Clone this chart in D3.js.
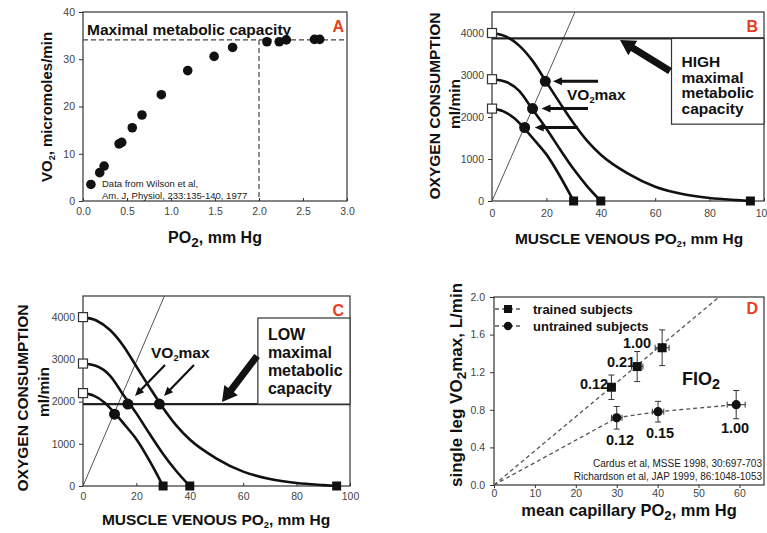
<!DOCTYPE html>
<html>
<head>
<meta charset="utf-8">
<script src="https://cdn.jsdelivr.net/npm/d3@7"></script>
<style>
body { margin: 0; background: #fff; }
svg { display: block; }
text { font-family: "Liberation Sans", Arial, sans-serif; }
</style>
</head>
<body>
<svg id="chart" width="767" height="533"></svg>
<script>
// Panel A : Wilson et al, VO2 vs PO2
var wilsonPO2 = [0.09, 0.19, 0.24, 0.41, 0.44, 0.56, 0.67, 0.89, 1.19, 1.49, 1.70, 2.09, 2.23, 2.31, 2.63, 2.69];
var wilsonVO2 = [3.5, 6.0, 7.4, 12.1, 12.4, 15.5, 18.2, 22.5, 27.6, 30.6, 32.5, 33.7, 33.7, 34.1, 34.2, 34.2];
var wilsonMax = 34.1;
var wilsonKnee = 2.0;
var aTicksX = [0, 0.5, 1.0, 1.5, 2.0, 2.5, 3.0];
var aTicksY = [0, 10, 20, 30, 40];

// Panels B and C : diffusion curves (muscle venous PO2 -> VO2)
var curveHighPO2 = [0, 5, 10, 15, 20, 25, 30, 35, 40, 50, 60, 70, 80, 90, 95];
var curveHighVO2 = [4000, 3920, 3700, 3330, 2830, 2330, 1850, 1430, 1100, 650, 340, 165, 70, 20, 0];
var curveMidPO2 = [0, 5, 10, 15, 20, 25, 30, 35, 40];
var curveMidVO2 = [2900, 2840, 2620, 2170, 1720, 1230, 760, 350, 0];
var curveLowPO2 = [0, 4, 8, 12, 16, 20, 25, 30];
var curveLowVO2 = [2200, 2140, 1980, 1720, 1420, 1110, 590, 0];
var fickPO2 = [0, 30.5];
var fickVO2 = [0, 4500];
var bCapacity = 3870;
var bCirclePO2 = [19.6, 14.9, 12.0];
var bCircleVO2 = [2850, 2200, 1750];
var cCapacity = 1940;
var cCirclePO2 = [28.6, 16.8, 11.8];
var cCircleVO2 = [1940, 1940, 1700];
var bcTicksX = [0, 20, 40, 60, 80, 100];
var bcTicksY = [0, 1000, 2000, 3000, 4000];

// Panel D : Cardus / Richardson
var trainedPO2 = [28.7, 35.0, 41.1];
var trainedVO2 = [1.04, 1.26, 1.46];
var trainedErrX = [0.9, 1.4, 1.7];
var trainedErrY = [0.13, 0.16, 0.19];
var trainedFIO2 = ['0.12', '0.21', '1.00'];
var untrainedPO2 = [30.0, 40.1, 59.2];
var untrainedVO2 = [0.715, 0.78, 0.855];
var untrainedErrX = [1.3, 1.4, 2.2];
var untrainedErrY = [0.12, 0.11, 0.15];
var untrainedFIO2 = ['0.12', '0.15', '1.00'];
var trainedFitPO2 = [0, 55];
var trainedFitVO2 = [0, 2.0];
var dTicksX = [0, 10, 20, 30, 40, 50, 60];
var dTicksY = [0, 0.4, 0.8, 1.2, 1.6, 2.0];

var INK = '#111';
var RED = '#e8401c';
var svg = d3.select('#chart');

/**
 * Builds scales and a group for one panel.
 */
makePanel = function(box, xDomain, yDomain) {
    var p = {};
    p.box = box;
    p.x = d3.scaleLinear().domain(xDomain).range([box.left, box.right]);
    p.y = d3.scaleLinear().domain(yDomain).range([box.bottom, box.top]);
    p.g = svg.append('g');
    return p;
};

/**
 * Frame, ticks and tick labels.
 */
drawAxes = function(p, o) {
    var xa = p.g.append('g')
        .attr('transform', 'translate(0,' + p.box.bottom + ')')
        .call(d3.axisBottom(p.x).tickValues(o.xTicks).tickFormat(o.xFmt)
            .tickSize(o.xTick).tickSizeOuter(0).tickPadding(o.xPad));
    var ya = p.g.append('g')
        .attr('transform', 'translate(' + p.box.left + ',0)')
        .call(d3.axisLeft(p.y).tickValues(o.yTicks).tickFormat(o.yFmt)
            .tickSize(4).tickSizeOuter(0).tickPadding(o.yPad));
    [xa, ya].forEach(function(a) {
        a.select('.domain').remove();
        a.selectAll('line').attr('stroke', '#333');
        a.selectAll('text')
            .attr('font-family', '"Liberation Sans", Arial, sans-serif')
            .attr('font-size', 10.5)
            .attr('fill', '#444');
    });
    p.g.append('rect')
        .attr('x', p.box.left).attr('y', p.box.top)
        .attr('width', p.box.right - p.box.left)
        .attr('height', p.box.bottom - p.box.top)
        .attr('fill', 'none').attr('stroke', '#333').attr('stroke-width', 1.2);
};

/**
 * Text made of parts; a part {sub: '2'} is drawn as a subscript.
 */
richText = function(g, x, y, parts, size, anchor, rotate) {
    var t = g.append('text')
        .attr('font-size', size)
        .attr('font-weight', 'bold')
        .attr('fill', INK)
        .attr('text-anchor', anchor || 'start');
    if (rotate) {
        t.attr('transform', 'translate(' + x + ',' + y + ') rotate(-90)');
    } else {
        t.attr('x', x).attr('y', y);
    }
    var shifted = false;
    parts.forEach(function(s) {
        if (typeof s === 'string') {
            t.append('tspan').attr('dy', shifted ? -size * 0.22 : 0).text(s);
            shifted = false;
        } else {
            t.append('tspan').attr('font-size', size * (s.scale || 0.65))
                .attr('dy', size * 0.22).text(s.sub);
            shifted = true;
        }
    });
    return t;
};

/**
 * Filled arrow from (x1,y1) to the tip (x2,y2).
 */
drawArrow = function(g, x1, y1, x2, y2, w, headLen, headW) {
    var dx = x2 - x1, dy = y2 - y1;
    var len = Math.sqrt(dx * dx + dy * dy);
    var ux = dx / len, uy = dy / len;
    var nx = -uy, ny = ux;
    var bx = x2 - ux * headLen, by = y2 - uy * headLen;
    var pts = [
        [x1 + nx * w / 2, y1 + ny * w / 2],
        [bx + nx * w / 2, by + ny * w / 2],
        [bx + nx * headW / 2, by + ny * headW / 2],
        [x2, y2],
        [bx - nx * headW / 2, by - ny * headW / 2],
        [bx - nx * w / 2, by - ny * w / 2],
        [x1 - nx * w / 2, y1 - ny * w / 2]
    ];
    g.append('path')
        .attr('d', 'M' + pts.map(function(q) { return q.join(','); }).join('L') + 'Z')
        .attr('fill', INK);
};

cornerLetter = function(p, letter, x, y) {
    p.g.append('text')
        .attr('x', x).attr('y', y)
        .attr('font-size', 16).attr('font-weight', 'bold')
        .attr('fill', RED).attr('text-anchor', 'end')
        .text(letter);
};

// ---------------- Panel A ----------------
drawPanelA = function() {
    var p = makePanel({left: 83, right: 347, top: 12, bottom: 201}, [0, 3], [0, 40]);
    drawAxes(p, {xTicks: aTicksX, yTicks: aTicksY, xFmt: d3.format('.1f'), yFmt: d3.format('d'),
        xTick: -3, xPad: 7, yPad: 4});

    var dash = '5,3';
    p.g.append('line')
        .attr('x1', p.x(0)).attr('x2', p.x(3))
        .attr('y1', p.y(wilsonMax)).attr('y2', p.y(wilsonMax))
        .attr('stroke', '#444').attr('stroke-width', 1.2).attr('stroke-dasharray', dash);
    p.g.append('line')
        .attr('x1', p.x(wilsonKnee)).attr('x2', p.x(wilsonKnee))
        .attr('y1', p.y(wilsonMax)).attr('y2', p.y(0))
        .attr('stroke', '#444').attr('stroke-width', 1.2).attr('stroke-dasharray', dash);

    p.g.selectAll('circle.pt').data(wilsonPO2).enter().append('circle')
        .attr('cx', function(d) { return p.x(d); })
        .attr('cy', function(d, i) { return p.y(wilsonVO2[i]); })
        .attr('r', 4.8).attr('fill', INK);

    richText(p.g, 87, 35, ['Maximal metabolic capacity'], 15.5);
    cornerLetter(p, 'A', 344, 32);

    p.g.append('text').attr('x', 102).attr('y', 187)
        .attr('font-size', 9.5).attr('fill', '#222')
        .text('Data from Wilson et al,');
    p.g.append('text').attr('x', 102).attr('y', 198.5)
        .attr('font-size', 9.5).attr('fill', '#222')
        .text('Am. J. Physiol, 233:135-140, 1977');

    richText(p.g, 52, 107, ['VO', {sub: '2', scale: 0.6}, ',  micromoles/min'], 15, 'middle', true);
    richText(p.g, 215, 243, ['PO', {sub: '2', scale: 0.85}, ',  mm Hg'], 16, 'middle');
};

/**
 * Shared drawing for B and C: three curves, Fick line, capacity line.
 */
drawCurves = function(p, capacity, circlePO2, circleVO2) {
    var line = d3.line()
        .x(function(d) { return p.x(d[0]); })
        .y(function(d) { return p.y(d[1]); })
        .curve(d3.curveMonotoneX);
    var curves = [
        d3.zip(curveHighPO2, curveHighVO2),
        d3.zip(curveMidPO2, curveMidVO2),
        d3.zip(curveLowPO2, curveLowVO2)
    ];

    // Fick line through the origin
    p.g.append('line')
        .attr('x1', p.x(fickPO2[0])).attr('y1', p.y(fickVO2[0]))
        .attr('x2', p.x(fickPO2[1])).attr('y2', p.y(fickVO2[1]))
        .attr('stroke', '#555').attr('stroke-width', 1);

    // capacity line
    p.g.append('line')
        .attr('x1', p.x(0)).attr('x2', p.x(100))
        .attr('y1', p.y(capacity)).attr('y2', p.y(capacity))
        .attr('stroke', '#222').attr('stroke-width', 2.2);

    curves.forEach(function(c) {
        p.g.append('path').attr('d', line(c))
            .attr('fill', 'none').attr('stroke', INK).attr('stroke-width', 2.6);
    });
    curves.forEach(function(c) {
        var s = 9;
        var start = c[0], end = c[c.length - 1];
        p.g.append('rect')
            .attr('x', p.x(start[0]) - s / 2).attr('y', p.y(start[1]) - s / 2)
            .attr('width', s).attr('height', s)
            .attr('fill', '#fff').attr('stroke', '#333').attr('stroke-width', 1.2);
        p.g.append('rect')
            .attr('x', p.x(end[0]) - s / 2).attr('y', p.y(end[1]) - s / 2)
            .attr('width', s).attr('height', s)
            .attr('fill', INK);
    });
    p.g.selectAll('circle.vmax').data(circlePO2).enter().append('circle')
        .attr('cx', function(d) { return p.x(d); })
        .attr('cy', function(d, i) { return p.y(circleVO2[i]); })
        .attr('r', 5.5).attr('fill', INK);
};

bcAxes = function(p, xPad, yPad) {
    drawAxes(p, {xTicks: bcTicksX, yTicks: bcTicksY, xFmt: d3.format('d'), yFmt: d3.format('d'),
        xTick: -3, xPad: xPad, yPad: yPad});
};

// ---------------- Panel B ----------------
drawPanelB = function() {
    var p = makePanel({left: 492, right: 764, top: 12, bottom: 201}, [0, 100], [0, 4500]);
    bcAxes(p, 9, 4);
    drawCurves(p, bCapacity, bCirclePO2, bCircleVO2);
    var x = p.x, y = p.y;
    p.g.append('rect')
        .attr('x', x(66)).attr('y', y(bCapacity))
        .attr('width', x(100) - x(66)).attr('height', y(1830) - y(bCapacity))
        .attr('fill', '#fff').attr('stroke', '#333').attr('stroke-width', 1.2);
    ['HIGH', 'maximal', 'metabolic', 'capacity'].forEach(function(w, i) {
        richText(p.g, x(66) + 10, 67 + i * 15.5, [w], 15.5);
    });
    drawArrow(p.g, 670, 71, 620, 40, 7, 15, 17);
    drawArrow(p.g, x(39), y(bCircleVO2[0]), x(22.4), y(bCircleVO2[0]), 3, 9, 8);
    drawArrow(p.g, x(35.3), y(bCircleVO2[1]), x(18.2), y(bCircleVO2[1]), 3, 9, 8);
    drawArrow(p.g, x(31.6), y(bCircleVO2[2]), x(15.7), y(bCircleVO2[2]), 3, 9, 8);
    richText(p.g, 567, 100, ['VO', {sub: '2', scale: 0.6}, 'max'], 15.5);
    cornerLetter(p, 'B', 758, 32);

    richText(p.g, 440, 106, ['OXYGEN CONSUMPTION'], 15.5, 'middle', true);
    richText(p.g, 460, 104, ['ml/min'], 15.5, 'middle', true);
    richText(p.g, 629, 244, ['MUSCLE VENOUS PO', {sub: '2', scale: 0.6}, ', mm Hg'], 15.5, 'middle');
};

// ---------------- Panel C ----------------
drawPanelC = function() {
    var p = makePanel({left: 83, right: 350, top: 296, bottom: 486}, [0, 100], [0, 4500]);
    bcAxes(p, 7, 4);
    drawCurves(p, cCapacity, cCirclePO2, cCircleVO2);
    var x = p.x, y = p.y;
    p.g.append('rect')
        .attr('x', x(65.5)).attr('y', 318)
        .attr('width', x(100) - x(65.5)).attr('height', y(cCapacity) - 318)
        .attr('fill', '#fff').attr('stroke', '#333').attr('stroke-width', 1.2);
    ['LOW', 'maximal', 'metabolic', 'capacity'].forEach(function(w, i) {
        richText(p.g, x(65.5) + 10, 340 + i * 18, [w], 16);
    });
    drawArrow(p.g, 257, 356, 222, 402, 7, 15, 17);
    drawArrow(p.g, 165, 365, 135, 396, 2.2, 9, 8);
    drawArrow(p.g, 194, 365, 164, 396, 2.2, 9, 8);
    richText(p.g, 151, 358, ['VO', {sub: '2', scale: 0.6}, 'max'], 15.5);
    cornerLetter(p, 'C', 344, 316);

    richText(p.g, 28, 398, ['OXYGEN CONSUMPTION'], 15.5, 'middle', true);
    richText(p.g, 49, 392, ['ml/min'], 15.5, 'middle', true);
    richText(p.g, 216, 525, ['MUSCLE VENOUS PO', {sub: '2', scale: 0.6}, ', mm Hg'], 15.5, 'middle');
};

// ---------------- Panel D ----------------
drawPanelD = function() {
    var p = makePanel({left: 494, right: 764, top: 297, bottom: 485}, [0, 66], [0, 2.0]);
    drawAxes(p, {xTicks: dTicksX, yTicks: dTicksY, xFmt: d3.format('d'), yFmt: d3.format('.1f'),
        xTick: 3, xPad: 2, yPad: 5});
    var x = p.x, y = p.y;
    var dash = '4,3';

    p.g.append('line')
        .attr('x1', x(trainedFitPO2[0])).attr('y1', y(trainedFitVO2[0]))
        .attr('x2', x(trainedFitPO2[1])).attr('y2', y(trainedFitVO2[1]))
        .attr('stroke', '#555').attr('stroke-width', 1.3).attr('stroke-dasharray', dash);
    var upts = [[0, 0]].concat(d3.zip(untrainedPO2, untrainedVO2));
    p.g.append('path')
        .attr('d', d3.line().x(function(d) { return x(d[0]); }).y(function(d) { return y(d[1]); })(upts))
        .attr('fill', 'none').attr('stroke', '#555').attr('stroke-width', 1.3).attr('stroke-dasharray', dash);

    function errorBars(px, py, ex, ey) {
        px.forEach(function(v, i) {
            var cx = x(v), cy = y(py[i]);
            var ya = y(py[i] - ey[i]), yb = y(py[i] + ey[i]);
            var xa = x(v - ex[i]), xb = x(v + ex[i]);
            var segs = [
                [cx, ya, cx, yb], [cx - 3, ya, cx + 3, ya], [cx - 3, yb, cx + 3, yb],
                [xa, cy, xb, cy], [xa, cy - 3, xa, cy + 3], [xb, cy - 3, xb, cy + 3]
            ];
            segs.forEach(function(s) {
                p.g.append('line')
                    .attr('x1', s[0]).attr('y1', s[1]).attr('x2', s[2]).attr('y2', s[3])
                    .attr('stroke', '#333').attr('stroke-width', 1);
            });
        });
    }
    errorBars(trainedPO2, trainedVO2, trainedErrX, trainedErrY);
    errorBars(untrainedPO2, untrainedVO2, untrainedErrX, untrainedErrY);

    p.g.selectAll('rect.tr').data(trainedPO2).enter().append('rect')
        .attr('x', function(d) { return x(d) - 4.5; })
        .attr('y', function(d, i) { return y(trainedVO2[i]) - 4.5; })
        .attr('width', 9).attr('height', 9).attr('fill', INK);
    p.g.selectAll('circle.un').data(untrainedPO2).enter().append('circle')
        .attr('cx', function(d) { return x(d); })
        .attr('cy', function(d, i) { return y(untrainedVO2[i]); })
        .attr('r', 4.6).attr('fill', INK);

    // FIO2 labels
    var trainedLabelPos = [[594, 389], [621, 367], [637, 348]];
    var untrainedLabelPos = [[620, 445], [660, 438], [735, 433]];
    trainedFIO2.forEach(function(t, i) {
        richText(p.g, trainedLabelPos[i][0], trainedLabelPos[i][1], [t], 14.5, 'middle');
    });
    untrainedFIO2.forEach(function(t, i) {
        richText(p.g, untrainedLabelPos[i][0], untrainedLabelPos[i][1], [t], 14.5, 'middle');
    });
    richText(p.g, 682, 385, ['FIO', {sub: '2', scale: 0.8}], 18);

    // legend
    [['trained subjects', 'square', 309], ['untrained subjects', 'circle', 326]].forEach(function(l) {
        p.g.append('line').attr('x1', 495).attr('x2', 523).attr('y1', l[2]).attr('y2', l[2])
            .attr('stroke', '#555').attr('stroke-width', 1.3).attr('stroke-dasharray', '4,3');
        if (l[1] === 'square') {
            p.g.append('rect').attr('x', 504).attr('y', l[2] - 4).attr('width', 8).attr('height', 8).attr('fill', INK);
        } else {
            p.g.append('circle').attr('cx', 508).attr('cy', l[2]).attr('r', 4.2).attr('fill', INK);
        }
        richText(p.g, 533, l[2] + 4.5, [l[0]], 13);
    });

    p.g.append('text').attr('x', 762).attr('y', 467).attr('text-anchor', 'end')
        .attr('font-size', 10).attr('fill', '#222')
        .text('Cardus et al, MSSE 1998, 30:697-703');
    p.g.append('text').attr('x', 762).attr('y', 480).attr('text-anchor', 'end')
        .attr('font-size', 10).attr('fill', '#222')
        .text('Richardson et al, JAP 1999, 86:1048-1053');

    cornerLetter(p, 'D', 758, 314);

    richText(p.g, 462, 385, ['single leg VO', {sub: '2', scale: 0.8}, 'max, L/min'], 17, 'middle', true);
    richText(p.g, 629, 516, ['mean  capillary  PO', {sub: '2', scale: 0.8}, ',  mm Hg'], 16.5, 'middle');
};

drawPanelA();
drawPanelB();
drawPanelC();
drawPanelD();
</script>
</body>
</html>
